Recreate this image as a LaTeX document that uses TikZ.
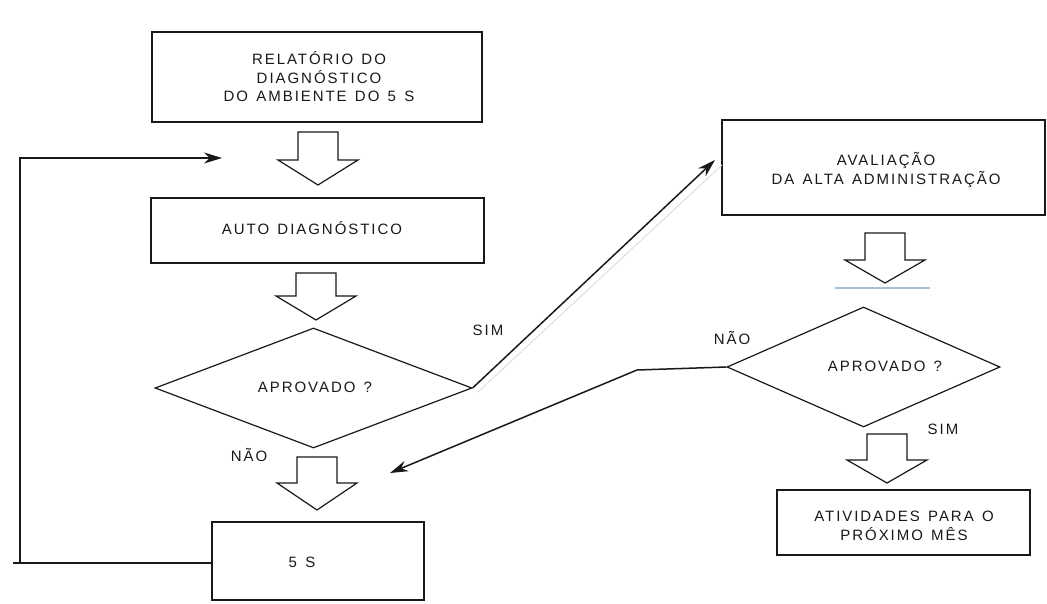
\documentclass[tikz,border=0pt]{standalone}
\usepackage{fontspec}
\setmainfont{Liberation Sans}[LetterSpace=13,WordSpace=1.35]
\usetikzlibrary{shapes.geometric,arrows.meta}
\definecolor{ink}{gray}{0.1}
\definecolor{scanblue}{RGB}{165,195,215}
\tikzset{
  x=1pt,y=-1pt,
  line/.style={draw=ink,line width=1.2pt},
  boxnode/.style={line,rectangle,inner sep=0pt},
  decision/.style={line,diamond,inner sep=0pt},
  lbl/.style={font=\fontsize{15}{18.5}\selectfont,align=center,text=ink,inner sep=0pt},
  tip/.style={-{Stealth[length=18pt,width=11pt]}},
  flow/.style={draw=ink,line width=1.5pt,tip},
  blk/.style={draw=ink,line width=1.2pt,fill=white,line join=miter},
  scan/.style={draw=gray!30,line width=0.8pt}
}
\newcommand{\blockarrow}[4]{% cx, top, heady, tip
  \draw[blk] (#1-20,#2) -- (#1+20,#2) -- (#1+20,#3) -- (#1+40,#3) -- (#1,#4)
    -- (#1-40,#3) -- (#1-20,#3) -- cycle;}
\begin{document}
\begin{tikzpicture}
\useasboundingbox[fill=white] (0,0) rectangle (1047,604);

% left column
\node[boxnode,minimum width=330pt,minimum height=90pt] (rel) at (317,77) {};
\node[lbl] (reltxt) at (319,77) {RELATÓRIO DO\\DIAGNÓSTICO\\DO AMBIENTE DO 5 S};
\node[boxnode,minimum width=333pt,minimum height=65pt] (auto) at (317.5,230.5) {};
\node[lbl] (autotxt) at (312,228) {AUTO DIAGNÓSTICO};
\node[decision,minimum width=317pt,minimum height=120pt,aspect=2.64] (apr1) at (313.5,388) {};
\node[lbl] (apr1txt) at (315,387) {APROVADO ?};
\node[boxnode,minimum width=212pt,minimum height=78pt] (cinco) at (318,561) {};
\node[lbl] (cincotxt) at (302,562) {5 S};

\blockarrow{318}{132}{160}{185}
\blockarrow{316}{273}{296}{320}
\blockarrow{317}{457}{483}{510}

% right column
\node[boxnode,minimum width=323pt,minimum height=95pt] (aval) at (883.5,167.5) {};
\node[lbl] (avaltxt) at (886,170) {AVALIAÇÃO\\DA ALTA ADMINISTRAÇÃO};
\node[decision,minimum width=273pt,minimum height=120pt,aspect=2.275] (apr2) at (863.5,367) {};
\node[lbl] (apr2txt) at (885,366) {APROVADO ?};
\node[boxnode,minimum width=253pt,minimum height=65pt] (ativ) at (903.5,522.5) {};
\node[lbl] (ativtxt) at (904,526) {ATIVIDADES PARA O\\PRÓXIMO MÊS};

\blockarrow{885}{233}{260}{283}
\blockarrow{887}{434}{460}{483}

% labels
\node[lbl] (sim1) at (488,330) {SIM};
\node[lbl] (nao1) at (249,455) {NÃO};
\node[lbl] (nao2) at (732,338) {NÃO};
\node[lbl] (sim2) at (943,429) {SIM};

% connectors
\coordinate (loopin) at (222,158);
\coordinate (loopcorner1) at (20,563);
\coordinate (loopcorner2) at (20,158);
\coordinate (loopstub) at (13,563);
\draw[line] (cinco.west |- 0,563) -- (loopstub);
\draw[line,tip] (loopcorner1) -- (loopcorner2) -- (loopin);

\coordinate (simtip) at (715,160);
\draw[scan] (478,392) -- (722,165);
\draw[flow] (apr1.east) -- (simtip);

\coordinate (naobend) at (637,370);
\coordinate (naotip) at (390,473);
\draw[flow] (apr2.west) -- (naobend) -- (naotip);

% faint scan line under right arrow
\draw[draw=scanblue,line width=1.2pt] (835,288) -- (930,288);
\end{tikzpicture}
\end{document}
